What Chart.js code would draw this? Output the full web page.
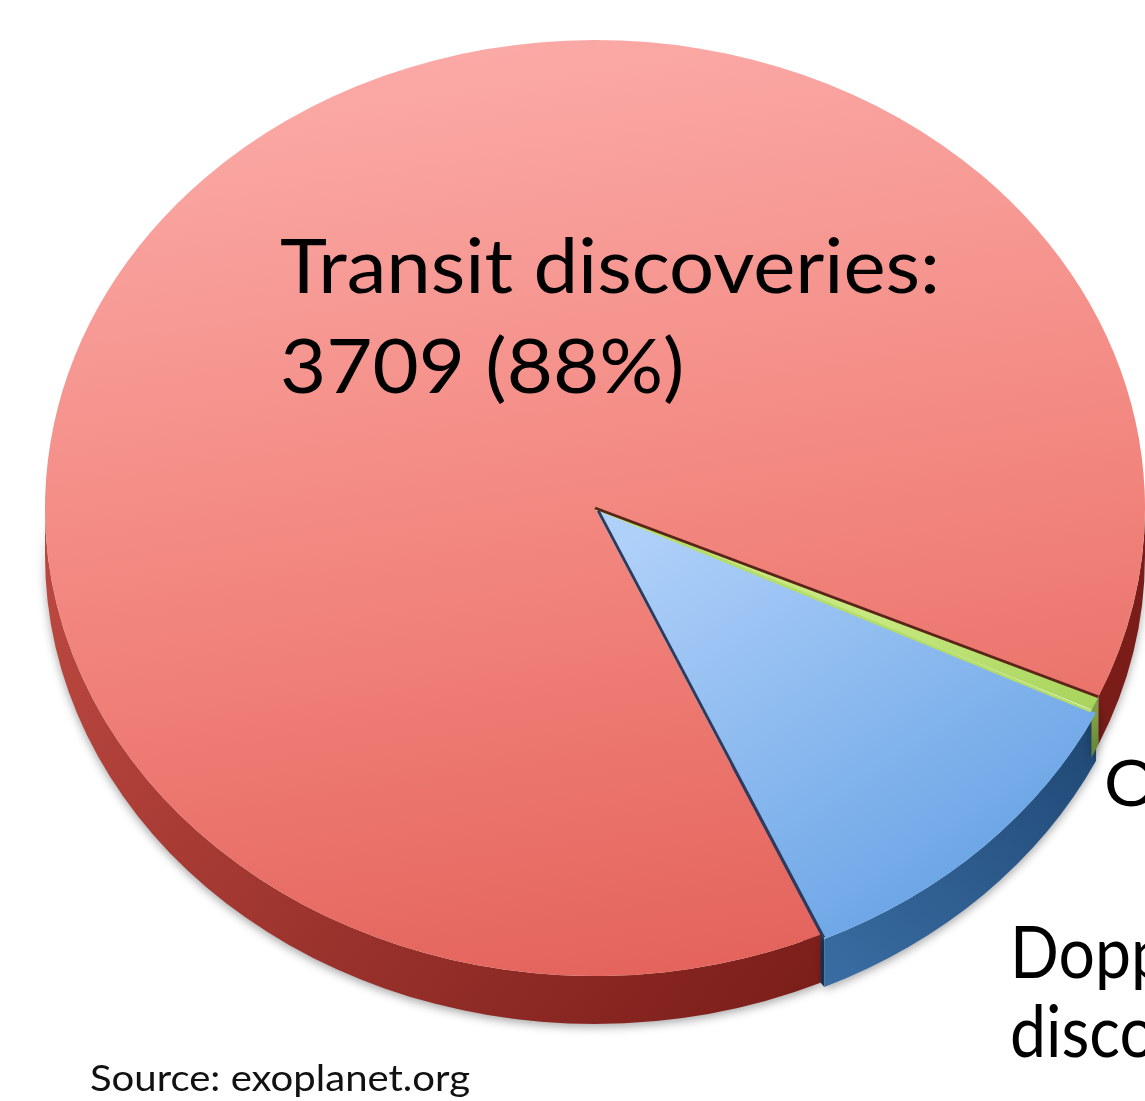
<!DOCTYPE html>
<html>
<head>
<meta charset="utf-8">
<title>Exoplanet discoveries by method</title>
<script src="https://cdn.jsdelivr.net/npm/chart.js@4.4.0/dist/chart.umd.min.js"></script>
<style>
  html, body { margin: 0; padding: 0; background: #fff; overflow: hidden; }
  canvas { display: block; }
</style>
</head>
<body>
<canvas id="pie" width="1145" height="1101"></canvas>
<script>
// discovery counts per method, drawn clockwise starting with Doppler
const methods = ["Doppler", "Transit", "Other"];
const counts = [470, 3709, 20];
const explode = [18, 0, 0];

// top face and side colours for each slice (light -> dark)
const faceColors = [["#AFD0F9", "#66A2E4"], ["#FBA9A6", "#E3625A"], ["#C6E87E", "#A6D25A"]];
const sideColors = [["#3A6EA4", "#214A77"], ["#B9473F", "#7A1D19"], ["#809F45", "#5C7A2B"]];

// where the tilted pie sits on the page
const FACE = { cx: 595, cy: 508, rx: 550, ry: 468, depth: 48 };

const total = counts.reduce((a, b) => a + b, 0);
function pct(i) {
  const p = counts[i] / total * 100;
  return p < 1 ? "<1" : Math.round(p);
}

// pie centre and radius in chart space
function geom(chart) {
  const arc = chart.getDatasetMeta(0).data[0];
  if (arc && arc.outerRadius) return { x: arc.x, y: arc.y, r: arc.outerRadius };
  const a = chart.chartArea;
  return {
    x: (a.left + a.right) / 2,
    y: (a.top + a.bottom) / 2,
    r: (Math.min(a.width, a.height) - Math.max(...explode)) / 2
  };
}

// page point -> chart space (inverse of the tilt transform)
function toChart(g, X, Y) {
  return [g.x + (X - FACE.cx) * g.r / FACE.rx, g.y + (Y - FACE.cy) * g.r / FACE.ry];
}

function faceFill(c) {
  const i = c.dataIndex ?? 0;
  const chart = c.chart;
  if (!chart.chartArea) return faceColors[i][0];
  const g = geom(chart);
  const ends = [
    [[650, 520], [1000, 900]],
    [[520, 45], [720, 990]],
    [[900, 600], [1100, 720]]
  ][i];
  const p0 = toChart(g, ...ends[0]);
  const p1 = toChart(g, ...ends[1]);
  const grad = chart.ctx.createLinearGradient(p0[0], p0[1], p1[0], p1[1]);
  grad.addColorStop(0, faceColors[i][0]);
  if (i === 1) grad.addColorStop(0.5, "#F2877F");
  grad.addColorStop(1, faceColors[i][1]);
  return grad;
}

// centre of a slice after it is pulled out by its offset
function sliceCentre(g, arc, i) {
  const off = (explode[i] || 0) / 4;
  const mid = (arc.startAngle + arc.endAngle) / 2;
  const circ = arc.endAngle - arc.startAngle;
  const fix = 1 - Math.sin(Math.min(Math.PI, circ));
  return {
    x: g.x + Math.cos(mid) * off,
    y: g.y + Math.sin(mid) * off,
    r: arc.outerRadius + off * fix
  };
}

const tiltPlugin = {
  id: "tilt",
  beforeDatasetsDraw(chart) {
    const ctx = chart.ctx;
    const g = geom(chart);
    const arcs = chart.getDatasetMeta(0).data;
    ctx.save();
    ctx.translate(FACE.cx, FACE.cy);
    ctx.scale(FACE.rx / g.r, FACE.ry / g.r);
    ctx.translate(-g.x, -g.y);

    const dd = FACE.depth * g.r / FACE.ry;

    // cut face left open where the Doppler slice is pulled out
    const d = sliceCentre(g, arcs[0], 0);
    const a = arcs[0].endAngle;
    const ox = Math.cos(a), oy = Math.sin(a);
    ctx.beginPath();
    ctx.moveTo(g.x + ox * g.r * 0.6, g.y + oy * g.r * 0.6);
    ctx.lineTo(g.x + ox * g.r, g.y + oy * g.r + dd);
    ctx.lineTo(d.x + ox * d.r, d.y + oy * d.r + dd);
    ctx.lineTo(d.x + ox * d.r, d.y + oy * d.r);
    ctx.lineTo(d.x + ox * g.r * 0.6, d.y + oy * g.r * 0.6);
    ctx.closePath();
    ctx.fillStyle = "#1E3D63";
    ctx.fill();

    // extruded rim along the front half of each slice
    const sideSpans = [
      [[830, 1000], [1100, 760]],
      [[60, 600], [830, 1000]],
      [[1090, 720], [1110, 760]]
    ];
    [1, 0, 2].forEach(i => {
      const arc = arcs[i];
      const s = sliceCentre(g, arc, i);
      const p0 = toChart(g, ...sideSpans[i][0]);
      const p1 = toChart(g, ...sideSpans[i][1]);
      const grad = ctx.createLinearGradient(p0[0], p0[1], p1[0], p1[1]);
      grad.addColorStop(0, sideColors[i][0]);
      grad.addColorStop(1, sideColors[i][1]);
      [-2 * Math.PI, 0, 2 * Math.PI].forEach(k => {
        const a1 = Math.max(arc.startAngle, k);
        const a2 = Math.min(arc.endAngle, k + Math.PI);
        if (a2 <= a1) return;
        ctx.save();
        ctx.shadowColor = "rgba(0,0,0,0.35)";
        ctx.shadowBlur = 10;
        ctx.shadowOffsetY = 3;
        ctx.beginPath();
        ctx.arc(s.x, s.y, s.r, a1, a2);
        ctx.arc(s.x, s.y + dd, s.r, a2, a1, true);
        ctx.closePath();
        ctx.fillStyle = grad;
        ctx.fill();
        ctx.restore();
      });
    });
  },
  afterDatasetsDraw(chart) {
    const ctx = chart.ctx;
    const g = geom(chart);
    const arcs = chart.getDatasetMeta(0).data;
    // seams along the slice edges
    const seam = (c, r, angle, color, w) => {
      ctx.beginPath();
      ctx.moveTo(c.x, c.y);
      ctx.lineTo(c.x + Math.cos(angle) * r, c.y + Math.sin(angle) * r);
      ctx.strokeStyle = color;
      ctx.lineWidth = w;
      ctx.stroke();
    };
    seam(g, arcs[2].outerRadius, arcs[2].endAngle + 0.004, "#B4DC68", 3);
    seam(sliceCentre(g, arcs[0], 0), arcs[0].outerRadius, arcs[0].endAngle, "#2C3B5E", 3);
    seam(g, arcs[1].outerRadius, arcs[1].endAngle, "#5A2418", 3);
    ctx.restore();
  },
  afterDraw(chart) {
    const ctx = chart.ctx;
    ctx.save();
    ctx.fillStyle = "#000";
    ctx.textBaseline = "alphabetic";

    ctx.font = "75px Lato";
    const head = `${methods[1]} discoveries:`;
    const squeeze = 660 / ctx.measureText(head).width;
    const line = (text, x, y, k) => {
      ctx.save();
      ctx.translate(x, y);
      ctx.scale(k || squeeze, 1);
      ctx.fillText(text, 0, 0);
      ctx.restore();
    };
    line(head, 280, 293);
    line(`${counts[1]} (${pct(1)}%)`, 280, 393);

    ctx.font = "72px Lato";
    line(methods[0], 1010, 978, squeeze * 0.84);
    line(`discoveries: ${counts[0]} (${pct(0)}%)`, 1010, 1057, squeeze * 0.84);

    ctx.font = "64px Lato";
    line(`${methods[2]}: ${counts[2]} (${pct(2)}%)`, 1104, 806);

    ctx.font = "36px Lato";
    ctx.fillStyle = "#111";
    const src = "Source: exoplanet.org";
    line(src, 90, 1091, 380 / ctx.measureText(src).width);
    ctx.restore();
  }
};

new Chart(document.getElementById("pie"), {
  type: "pie",
  data: {
    labels: methods,
    datasets: [{
      data: counts,
      backgroundColor: faceFill,
      borderWidth: 0,
      offset: explode,
      clip: false
    }]
  },
  options: {
    responsive: false,
    animation: false,
    devicePixelRatio: 1,
    rotation: 115.5,
    layout: { padding: 0 },
    plugins: {
      legend: { display: false },
      tooltip: { enabled: false }
    }
  },
  plugins: [tiltPlugin]
});
</script>
</body>
</html>
